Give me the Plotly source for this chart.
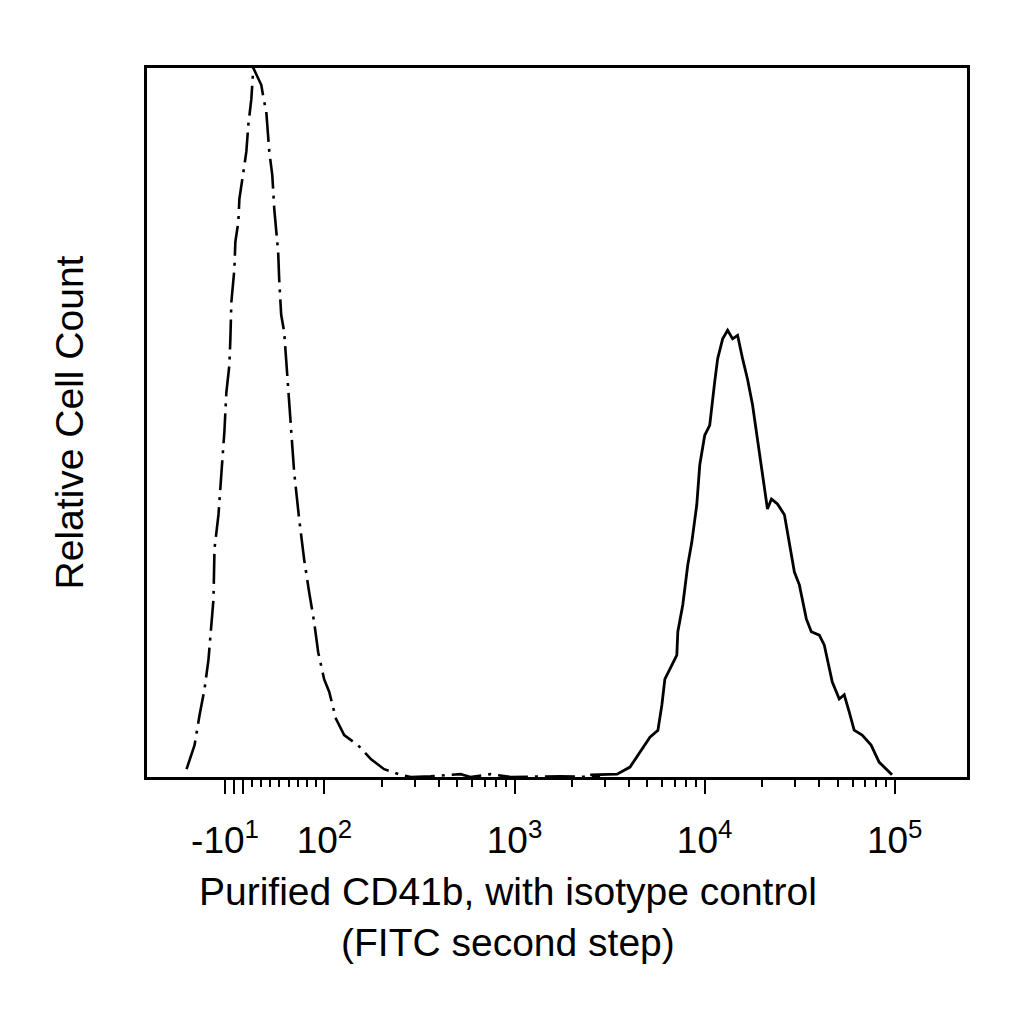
import numpy as np
import plotly.graph_objects as go

# 同型对照 (isotype control) 直方图: 荧光强度 与 相对细胞数
isotype_x = [-52.4, -43.6, -38.1, -32.6, -28.2, -24.9, -22.7, -21.6, -17.2, -13.9, -10.7, -8.5,
             -5.2, -4.1, -3.0, 0.3, 1.4, 4.7, 5.8, 10.2, 13.5, 15.7, 19.0, 21.2, 26.7, 30.0,
             32.2, 35.5, 38.8, 42.1, 44.3, 48.6, 49.7, 51.9, 55.2, 57.4, 59.6, 62.9, 66.2,
             71.7, 77.2, 82.7, 88.2, 92.7, 99.6, 106, 115, 127, 150, 176, 206,
             252, 285, 362, 520, 586, 748, 953, 1740, 2820]
isotype_y = [1.1, 4.5, 8.7, 12.4, 16.6, 21.9, 25.1, 32.2, 37.0, 43.0, 48.7, 54.3,
             58.1, 61.8, 67.0, 71.6, 75.5, 78.3, 81.5, 85.3, 88.2, 92.0, 95.6, 100, 98.4, 97.6,
             95.9, 93.8, 88.2, 84.9, 80.1, 74.0, 70.2, 65.2, 62.8, 59.0, 54.7, 48.7, 43.0,
             36.4, 30.7, 26.1, 21.9, 17.6, 13.8, 12.0, 8.2, 5.9, 4.5, 2.5, 1.1,
             0.3, 0.0, 0.1, 0.4, 0.0, 0.4, 0.0, 0.1, 0.0]

# CD41b 染色直方图
cd41b_x = [2500, 3462, 4050, 4570, 5157, 5679, 5961, 6178, 6563, 7141, 7227, 7677, 8153, 8558,
           9092, 9426, 10012, 10634, 11294, 11710, 12441, 13214, 14036, 14907, 15834, 16817,
           17862, 18973, 20151, 21403, 22468, 24164, 26290, 27925, 29662, 31504, 34280, 36410,
           40120, 42620, 44190, 46940, 51070, 54240, 57610, 61190, 67390, 75120, 82740, 91110, 96790]
cd41b_y = [0.3, 0.4, 1.4, 3.5, 5.6, 6.6, 10.2, 13.8, 15.2, 17.2, 20.5, 24.3, 29.9, 33.1,
           38.4, 44.0, 48.2, 49.6, 55.7, 59.0, 61.8, 63.0, 61.8, 62.3, 59.0, 56.1,
           52.5, 47.7, 42.6, 37.8, 39.2, 38.5, 37.0, 32.7, 28.9, 27.1, 22.3, 20.5,
           20.0, 18.6, 16.6, 13.4, 11.0, 11.6, 9.2, 6.6, 5.9, 4.5, 2.1, 1.0, 0.3]

# 坐标轴刻度
major_ticks = [-10, 0, 10, 100, 1000, 10000, 100000]
major_labels = ["-10<sup>1</sup>", "", "", "10<sup>2</sup>", "10<sup>3</sup>",
                "10<sup>4</sup>", "10<sup>5</sup>"]
minor_ticks = ([k * 10 for k in range(2, 10)] + [k * 100 for k in range(2, 10)] +
               [k * 1000 for k in range(2, 10)] + [k * 10000 for k in range(2, 10)])
x_limits = [-96, 240000]

LIN_LIMIT = 91  # 线性区与对数区的分界


def biex(v):
    # 简化的双指数变换: 分界以下线性, 以上对数
    v = np.asarray(v, dtype=float)
    lin = np.log10(LIN_LIMIT) + (v - LIN_LIMIT) / (LIN_LIMIT * np.log(10))
    return np.where(v >= LIN_LIMIT, np.log10(np.maximum(v, 1e-9)), lin)


fig = go.Figure()
fig.add_trace(go.Scatter(x=biex(isotype_x), y=isotype_y, mode="lines",
                         line=dict(color="black", width=2.6, dash="30px,7px,3px,7px"),
                         name="isotype"))
fig.add_trace(go.Scatter(x=biex(cd41b_x), y=cd41b_y, mode="lines",
                         line=dict(color="black", width=2.8), name="CD41b"))

font = "Liberation Sans, Arial, sans-serif"
fig.update_layout(
    width=1024, height=1024,
    margin=dict(l=139, r=65, t=60, b=255),
    paper_bgcolor="white", plot_bgcolor="white",
    showlegend=False,
    font=dict(family=font, color="black"),
    xaxis=dict(
        range=list(biex(x_limits)),
        tickmode="array", tickvals=list(biex(major_ticks)), ticktext=major_labels,
        ticks="outside", ticklen=14, tickwidth=2, tickcolor="black",
        minor=dict(tickmode="array", tickvals=list(biex(minor_ticks)),
                   ticks="outside", ticklen=7, tickwidth=2, tickcolor="black"),
        tickfont=dict(size=37, family=font, color="black"),
        ticklabelstandoff=15,
        showgrid=False, zeroline=False,
        showline=True, linecolor="black", linewidth=3, mirror=True,
    ),
    yaxis=dict(
        range=[0, 100], showticklabels=False, ticks="",
        showgrid=False, zeroline=False,
        showline=True, linecolor="black", linewidth=3, mirror=True,
        title=dict(text="Relative Cell Count",
                   font=dict(size=39, family=font, color="black"), standoff=49),
    ),
)

# x 轴标题 (原图中略偏左, 用注释放置)
fig.add_annotation(text="Purified CD41b, with isotype control<br>(FITC second step)",
                   xref="paper", yref="paper", x=0.44, y=-0.1975,
                   xanchor="center", yanchor="middle", showarrow=False,
                   font=dict(size=39, family=font, color="black"))

fig.write_html("out.html")
